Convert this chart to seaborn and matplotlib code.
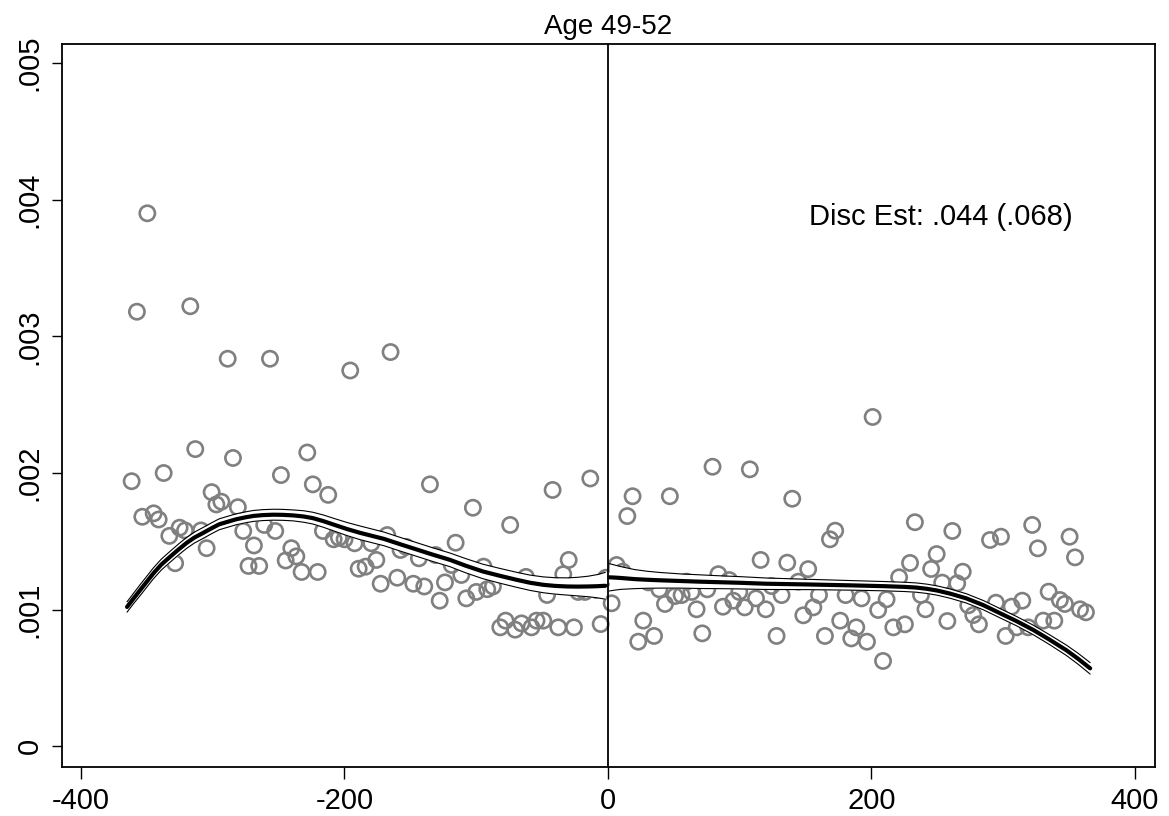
import numpy as np
import pandas as pd
import matplotlib
matplotlib.use("Agg")
import matplotlib.pyplot as plt
import seaborn as sns

# ─── datos (y en unidades de .001) ─────────────────────────────────────────
left_x = [-361.5, -357.5, -353.4, -349.6, -344.8, -341.0, -337.2, -332.9, -328.5, -325.1,
          -321.0, -317.0, -313.2, -308.9, -304.6, -300.8, -297.2, -293.4, -288.6, -284.6,
          -280.9, -276.8, -272.8, -268.7, -264.7, -260.9, -256.5, -252.5, -248.2, -244.6,
          -240.3, -236.5, -232.5, -228.2, -224.0, -220.3, -216.3, -212.3, -208.2, -204.2,
          -199.9, -195.6, -192.3, -189.2, -183.9, -179.6, -175.8, -172.5, -167.5, -165.0,
          -159.9, -157.4, -153.2, -147.7, -143.5, -139.4, -135.1, -130.8, -127.7, -123.7,
          -118.6, -115.6, -111.3, -107.5, -102.5, -99.9, -94.4, -91.6, -87.3, -81.7,
          -77.7, -74.2, -70.4, -65.6, -62.2, -58.0, -54.2, -49.1, -46.2, -42.0,
          -37.7, -33.9, -29.8, -25.8, -22.6, -17.5, -13.4, -8.6, -5.5, -1.5]
left_y = [1.94, 3.18, 1.68, 3.90, 1.705, 1.66, 2.00, 1.54, 1.34, 1.60,
          1.58, 3.22, 2.175, 1.58, 1.45, 1.86, 1.77, 1.79, 2.836, 2.11,
          1.75, 1.576, 1.32, 1.47, 1.32, 1.62, 2.836, 1.576, 1.985, 1.36,
          1.45, 1.39, 1.276, 2.15, 1.917, 1.276, 1.576, 1.84, 1.515, 1.527,
          1.515, 2.75, 1.486, 1.30, 1.315, 1.486, 1.364, 1.19, 1.546, 2.885,
          1.234, 1.437, 1.46, 1.19, 1.376, 1.17, 1.917, 1.40, 1.066, 1.20,
          1.327, 1.49, 1.254, 1.083, 1.746, 1.13, 1.315, 1.15, 1.17, 0.871,
          0.92, 1.62, 0.854, 0.90, 1.24, 0.871, 0.92, 0.92, 1.108, 1.876,
          0.871, 1.26, 1.364, 0.871, 1.13, 1.13, 1.96, 1.144, 0.895, 1.234]

right_x = [2.8, 6.6, 11.2, 14.7, 18.7, 23.0, 26.8, 30.6, 35.0, 39.0,
           43.3, 47.0, 50.9, 55.9, 59.7, 63.5, 67.3, 71.6, 75.4, 79.4,
           83.8, 87.3, 92.1, 95.2, 99.7, 103.8, 107.7, 112.4, 115.9, 119.8,
           124.2, 128.0, 131.8, 136.1, 139.9, 144.5, 148.3, 152.0, 155.9, 160.2,
           164.7, 168.5, 172.5, 176.3, 180.4, 184.7, 188.5, 192.5, 196.6, 200.9,
           205.1, 208.8, 211.5, 216.6, 221.0, 225.4, 229.3, 233.0, 237.6, 241.0,
           245.3, 249.5, 253.7, 257.6, 261.4, 265.1, 269.3, 273.5, 277.3, 281.6,
           290.0, 294.5, 298.3, 301.9, 306.4, 310.2, 314.5, 319.0, 322.0, 326.3,
           330.4, 334.5, 338.8, 343.0, 346.8, 350.4, 354.5, 358.3, 362.8]
right_y = [1.047, 1.327, 1.278, 1.685, 1.83, 0.766, 0.92, 1.20, 0.808, 1.149,
           1.042, 1.83, 1.10, 1.107, 1.205, 1.13, 1.003, 0.827, 1.149, 2.046,
           1.26, 1.022, 1.217, 1.066, 1.13, 1.017, 2.027, 1.083, 1.364, 1.003,
           1.173, 0.808, 1.107, 1.344, 1.812, 1.205, 0.959, 1.297, 1.017, 1.107,
           0.808, 1.515, 1.578, 0.92, 1.107, 0.79, 0.871, 1.083, 0.766, 2.41,
           0.998, 0.625, 1.076, 0.871, 1.237, 0.893, 1.342, 1.64, 1.108, 1.003,
           1.298, 1.407, 1.198, 0.917, 1.576, 1.193, 1.278, 1.032, 0.961, 0.893,
           1.51, 1.051, 1.534, 0.808, 1.022, 0.871, 1.066, 0.871, 1.62, 1.449,
           0.92, 1.132, 0.92, 1.071, 1.042, 1.534, 1.383, 1.003, 0.981]

# ajuste local a cada lado del corte, con media anchura del IC
fit_left_x = [-365, -360, -355, -350, -345, -339, -332, -326, -320, -314, -307, -301, -295,
              -288, -282, -275, -269, -262, -254, -247, -239, -231, -224, -216, -208, -198,
              -188, -179, -170, -158, -145, -133, -120, -108, -95, -82, -69, -59, -49, -40,
              -31, -23, -15, -8, -2]
fit_left_y = [1.02, 1.083, 1.144, 1.205, 1.266, 1.33, 1.39, 1.44, 1.487, 1.527, 1.563, 1.595,
              1.625, 1.645, 1.662, 1.676, 1.686, 1.692, 1.695, 1.694, 1.69, 1.682, 1.67,
              1.648, 1.622, 1.59, 1.562, 1.54, 1.518, 1.48, 1.44, 1.403, 1.365, 1.322, 1.28,
              1.248, 1.218, 1.197, 1.182, 1.174, 1.17, 1.169, 1.17, 1.172, 1.175]
ci_left = [0.038, 0.038, 0.04, 0.04, 0.04, 0.04, 0.04, 0.04, 0.04, 0.04, 0.04, 0.04, 0.04,
           0.04, 0.04, 0.04, 0.04, 0.04, 0.04, 0.04, 0.04, 0.042, 0.043, 0.045, 0.046, 0.048,
           0.05, 0.05, 0.05, 0.05, 0.05, 0.05, 0.05, 0.052, 0.053, 0.054, 0.055, 0.056, 0.058,
           0.06, 0.063, 0.068, 0.075, 0.085, 0.098]

fit_right_x = [1, 5, 10, 20, 30, 40, 55, 70, 85, 100, 120, 150, 185, 210, 225, 234, 242, 250,
               260, 272, 285, 297, 310, 323, 335, 348, 357, 366]
fit_right_y = [1.237, 1.235, 1.232, 1.224, 1.219, 1.215, 1.21, 1.205, 1.201, 1.197, 1.19,
               1.185, 1.178, 1.172, 1.167, 1.162, 1.153, 1.14, 1.117, 1.083, 1.033, 0.977,
               0.917, 0.851, 0.782, 0.703, 0.64, 0.571]
ci_right = [0.10, 0.092, 0.083, 0.07, 0.062, 0.057, 0.052, 0.05, 0.047, 0.045, 0.042, 0.038,
            0.035, 0.034, 0.034, 0.034, 0.034, 0.034, 0.034, 0.034, 0.034, 0.034, 0.034, 0.035,
            0.036, 0.038, 0.04, 0.042]

y_ticks = [0, 0.001, 0.002, 0.003, 0.004, 0.005]
y_tick_labels = ["0", ".001", ".002", ".003", ".004", ".005"]
x_ticks = [-400, -200, 0, 200, 400]
x_tick_labels = ["-400", "-200", "0", "200", "400"]

title = "Age 49-52"
note = "Disc Est: .044 (.068)"

SCALE = 0.001
pts = pd.DataFrame({"x": left_x + right_x, "y": np.array(left_y + right_y) * SCALE})

# ─── figura ────────────────────────────────────────────────────────────────
sns.set_theme(style="white")
plt.rcParams["font.family"] = ["Liberation Sans", "DejaVu Sans"]

fig = plt.figure(figsize=(11.69, 8.16), dpi=100, facecolor="white")
ax = fig.add_axes([0.053, 0.060, 0.935, 0.886])

GRAY = "#808080"
sns.scatterplot(data=pts, x="x", y="y", ax=ax, s=120, marker="o",
                facecolors="none", edgecolor=GRAY, linewidth=1.9, zorder=2, legend=False)
pc = ax.collections[0]
pc.set_facecolor("none")
pc.set_edgecolor(GRAY)
pc.set_linewidth(1.9)
pc.set_sizes([120])

for fx, fy, ci in [(fit_left_x, fit_left_y, ci_left), (fit_right_x, fit_right_y, ci_right)]:
    fx = np.array(fx)
    fy = np.array(fy) * SCALE
    ci = np.array(ci) * SCALE
    ax.fill_between(fx, fy - ci, fy + ci, color="white", zorder=3, linewidth=0)
    sns.lineplot(x=fx, y=fy - ci, ax=ax, color="black", linewidth=0.8,
                 estimator=None, sort=False, zorder=4)
    sns.lineplot(x=fx, y=fy + ci, ax=ax, color="black", linewidth=0.8,
                 estimator=None, sort=False, zorder=4)
    sns.lineplot(x=fx, y=fy, ax=ax, color="black", linewidth=3.0,
                 estimator=None, sort=False, zorder=5)

ax.axvline(0, color="black", linewidth=1.3, zorder=6)

ax.set_xlim(-414.4, 415.2)
ax.set_ylim(-0.000151, 0.005138)
ax.set_xticks(x_ticks)
ax.set_xticklabels(x_tick_labels)
ax.set_yticks(y_ticks)
ax.set_yticklabels(y_tick_labels, rotation=90, va="center")
ax.tick_params(axis="x", direction="out", length=8.5, width=1, pad=6,
               labelsize=21, colors="black", bottom=True)
ax.tick_params(axis="y", direction="out", length=7.2, width=1, pad=6,
               labelsize=21, colors="black", left=True)
ax.set_xlabel("")
ax.set_ylabel("")

for spine in ax.spines.values():
    spine.set_edgecolor("black")
    spine.set_linewidth(1.3)

ax.set_title(title, fontsize=20, color="black", pad=7)
ax.text(152.5, 0.00387, note, fontsize=21, color="black", ha="left", va="center")

fig.savefig("out.png", dpi=100, facecolor="white")
